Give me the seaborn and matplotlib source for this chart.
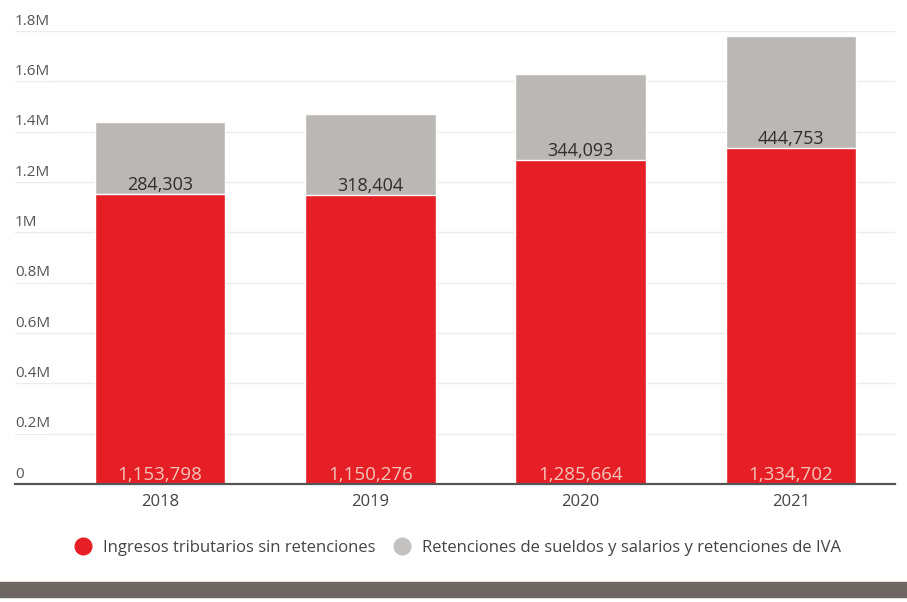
import matplotlib
matplotlib.use("Agg")
import matplotlib.pyplot as plt
from matplotlib.lines import Line2D
from matplotlib.patches import Rectangle
import seaborn as sns
import pandas as pd

years = ["2018", "2019", "2020", "2021"]
ingresos = [1153798, 1150276, 1285664, 1334702]
retenciones = [284303, 318404, 344093, 444753]
ytick_vals = [0, 200000, 400000, 600000, 800000, 1000000, 1200000, 1400000, 1600000, 1800000]
ytick_labels = ["0", "0.2M", "0.4M", "0.6M", "0.8M", "1M", "1.2M", "1.4M", "1.6M", "1.8M"]
legend_labels = ["Ingresos tributarios sin retenciones",
                 "Retenciones de sueldos y salarios y retenciones de IVA"]

RED = "#e61f27"
GRAY = "#bab7b4"

sns.set_theme(style="white")
plt.rcParams["font.family"] = ["Open Sans", "DejaVu Sans"]

df = pd.DataFrame({"year": years, "ingresos": ingresos, "retenciones": retenciones})
df["total"] = df["ingresos"] + df["retenciones"]

fig = plt.figure(figsize=(9.07, 6.02), dpi=100)
ax = fig.add_axes([15 / 907, 1 - 484 / 602, 880 / 907, 453 / 602])

sns.barplot(data=df, x="year", y="total", color=GRAY, width=0.62, saturation=1, ax=ax)
sns.barplot(data=df, x="year", y="ingresos", color=RED, width=0.62, saturation=1, ax=ax)

ax.set_xlim(-0.69, 3.495)
ax.set_ylim(0, 1800000)
ax.set_xlabel("")
ax.set_ylabel("")
ax.set_yticks(ytick_vals)
ax.set_yticklabels([])
ax.tick_params(axis="y", length=0)
ax.tick_params(axis="x", length=0, pad=7, labelsize=12, labelcolor="#444444")
ax.set_axisbelow(True)
for v in ytick_vals[1:]:
    ax.axhline(v, color="#ececec", lw=1, zorder=0)
for s in ["top", "right", "left"]:
    ax.spines[s].set_visible(False)
ax.spines["bottom"].set_color("#555555")
ax.spines["bottom"].set_linewidth(1.6)

# y labels sit just above their gridlines at the left edge
for v, lab in zip(ytick_vals, ytick_labels):
    box = dict(boxstyle="square,pad=0.15", fc="white", ec="none") if v > 0 else None
    ax.annotate(lab, xy=(0, v), xycoords=("axes fraction", "data"),
                xytext=(0, 7), textcoords="offset points",
                ha="left", va="center", fontsize=11, color="#555555", bbox=box)

for i in range(len(years)):
    ax.annotate(f"{ingresos[i]:,}", xy=(i, 0), xytext=(0, 0), textcoords="offset points",
                ha="center", va="bottom", fontsize=13.5, color="#f4c4b8")
    ax.annotate(f"{retenciones[i]:,}", xy=(i, ingresos[i]), xytext=(0, 0),
                textcoords="offset points", ha="center", va="bottom",
                fontsize=13, color="#2e2e2e")

handles = [Line2D([], [], marker="o", ls="", markersize=12, color=RED),
           Line2D([], [], marker="o", ls="", markersize=12, color="#c4c2c0")]
fig.legend(handles, legend_labels, loc="center", bbox_to_anchor=(0.504, 1 - 548 / 602),
           ncol=2, frameon=False, fontsize=12, labelcolor="#444444",
           handletextpad=0.6, columnspacing=1.0, handlelength=1.2)

fig.patches.append(Rectangle((0, 1 - 597 / 602), 1, 15 / 602, transform=fig.transFigure,
                             color="#6e6663", zorder=0))

fig.savefig("out.png", dpi=100, facecolor="white")
